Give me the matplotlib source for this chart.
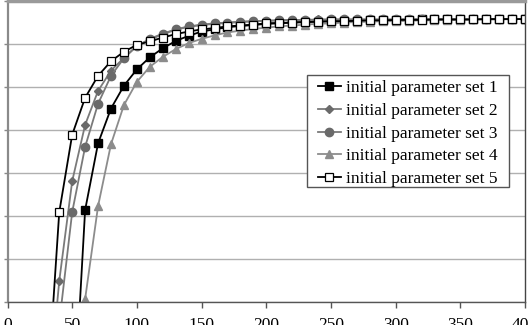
import matplotlib
matplotlib.use("Agg")
from matplotlib import pyplot as plt
from matplotlib.patches import Rectangle

plt.rcParams['font.family'] = ['Liberation Serif', 'DejaVu Serif']

# x positions of the samples
x1 = list(range(50, 401, 10))
x2 = list(range(30, 401, 10))
x3 = list(range(40, 401, 10))
x4 = list(range(50, 401, 10))
x5 = list(range(30, 401, 10))

# values (grid step = 1, no y labels in the original)
set1 = [-3.21, 2.14, 3.69, 4.50, 5.03, 5.41, 5.69, 5.90, 6.07, 6.19,
        6.29, 6.34, 6.39, 6.42, 6.44, 6.47, 6.48, 6.50, 6.51, 6.52,
        6.53, 6.53, 6.54, 6.55, 6.55, 6.56, 6.56, 6.57, 6.57, 6.57,
        6.57, 6.58, 6.58, 6.58, 6.58, 6.58]
set2 = [-2.77, 0.49, 2.81, 4.12, 4.91, 5.38, 5.68, 5.96, 6.10, 6.23,
        6.33, 6.40, 6.44, 6.47, 6.49, 6.51, 6.53, 6.54, 6.55, 6.56,
        6.56, 6.57, 6.57, 6.57, 6.57, 6.57, 6.57, 6.57, 6.58, 6.58,
        6.58, 6.58, 6.58, 6.58, 6.58, 6.58, 6.58, 6.58]
set3 = [-0.49, 2.09, 3.61, 4.61, 5.26, 5.67, 5.95, 6.12, 6.24, 6.34,
        6.41, 6.45, 6.48, 6.50, 6.52, 6.53, 6.54, 6.55, 6.56, 6.56,
        6.56, 6.57, 6.57, 6.57, 6.57, 6.57, 6.57, 6.58, 6.58, 6.58,
        6.58, 6.58, 6.58, 6.58, 6.58, 6.58, 6.58]
set4 = [-2.74, 0.07, 2.23, 3.67, 4.58, 5.12, 5.47, 5.70, 5.88, 6.02,
        6.12, 6.20, 6.27, 6.31, 6.35, 6.38, 6.41, 6.43, 6.45, 6.47,
        6.48, 6.50, 6.51, 6.52, 6.53, 6.53, 6.54, 6.55, 6.55, 6.56,
        6.56, 6.57, 6.57, 6.57, 6.58, 6.58]
set5 = [-2.47, 2.09, 3.89, 4.75, 5.26, 5.60, 5.82, 5.98, 6.06, 6.15,
        6.23, 6.29, 6.34, 6.37, 6.41, 6.43, 6.45, 6.48, 6.49, 6.50,
        6.51, 6.52, 6.53, 6.53, 6.54, 6.55, 6.55, 6.56, 6.56, 6.56,
        6.57, 6.57, 6.57, 6.57, 6.58, 6.58, 6.58, 6.58]

labels = ['initial parameter set 1', 'initial parameter set 2',
          'initial parameter set 3', 'initial parameter set 4',
          'initial parameter set 5']
xticks = [0, 50, 100, 150, 200, 250, 300, 350, 400]

W, H = 529, 325
fig = plt.figure(figsize=(W / 100, H / 100), dpi=100)
ax = fig.add_axes([7.5 / W, 23 / H, 517.5 / W, 301 / H])

ax.plot(x1, set1, '-', color='black', lw=1.3, marker='s', ms=5.5,
        mfc='black', mec='black', label=labels[0])
ax.plot(x2, set2, '-', color='#7a7a7a', lw=1.3, marker='D', ms=4,
        mfc='#6a6a6a', mec='#6a6a6a', label=labels[1])
ax.plot(x3, set3, '-', color='#7a7a7a', lw=1.3, marker='o', ms=6,
        mfc='#6a6a6a', mec='#6a6a6a', label=labels[2])
ax.plot(x4, set4, '-', color='#8c8c8c', lw=1.3, marker='^', ms=6,
        mfc='#8c8c8c', mec='#8c8c8c', label=labels[3])
ax.plot(x5, set5, '-', color='black', lw=1.3, marker='s', ms=6,
        mfc='white', mec='black', mew=0.9, label=labels[4])

ax.set_xlim(0, 400)
ax.set_ylim(0, 7)
ax.set_xticks(xticks)
ax.set_xticklabels([str(t) for t in xticks], fontsize=12.5)
ax.set_yticks(range(0, 8))
ax.set_yticklabels([])
ax.tick_params(axis='x', direction='out', length=4, width=1, color='#555555', pad=7)
ax.tick_params(axis='y', direction='out', length=3, width=1, color='#888888')

ax.grid(True, axis='y', color='#b0b0b0', lw=1)
ax.set_axisbelow(True)
ax.spines['left'].set_color('#8a8a8a')
ax.spines['left'].set_linewidth(1.6)
ax.spines['bottom'].set_color('#555555')
ax.spines['bottom'].set_linewidth(1)
ax.spines['top'].set_color('#9a9a9a')
ax.spines['top'].set_linewidth(2.5)
ax.spines['right'].set_color('#444444')
ax.spines['right'].set_linewidth(1)

# legend box drawn separately so the side padding can differ from the top one
box = Rectangle((307 / W, 1 - 187 / H), 202 / W, 112 / H, transform=fig.transFigure,
                facecolor='white', edgecolor='#555555', lw=1, zorder=4)
ax.add_artist(box)
box.set_clip_on(False)
leg = ax.legend(loc='upper left', bbox_to_anchor=(310.5 / 517.5, 1 - 79 / 301),
                borderaxespad=0, fontsize=12.5, handlelength=1.3,
                handletextpad=0.3, labelspacing=0.38, borderpad=0,
                frameon=False)
leg.set_zorder(5)

fig.savefig('out.png', dpi=100)
